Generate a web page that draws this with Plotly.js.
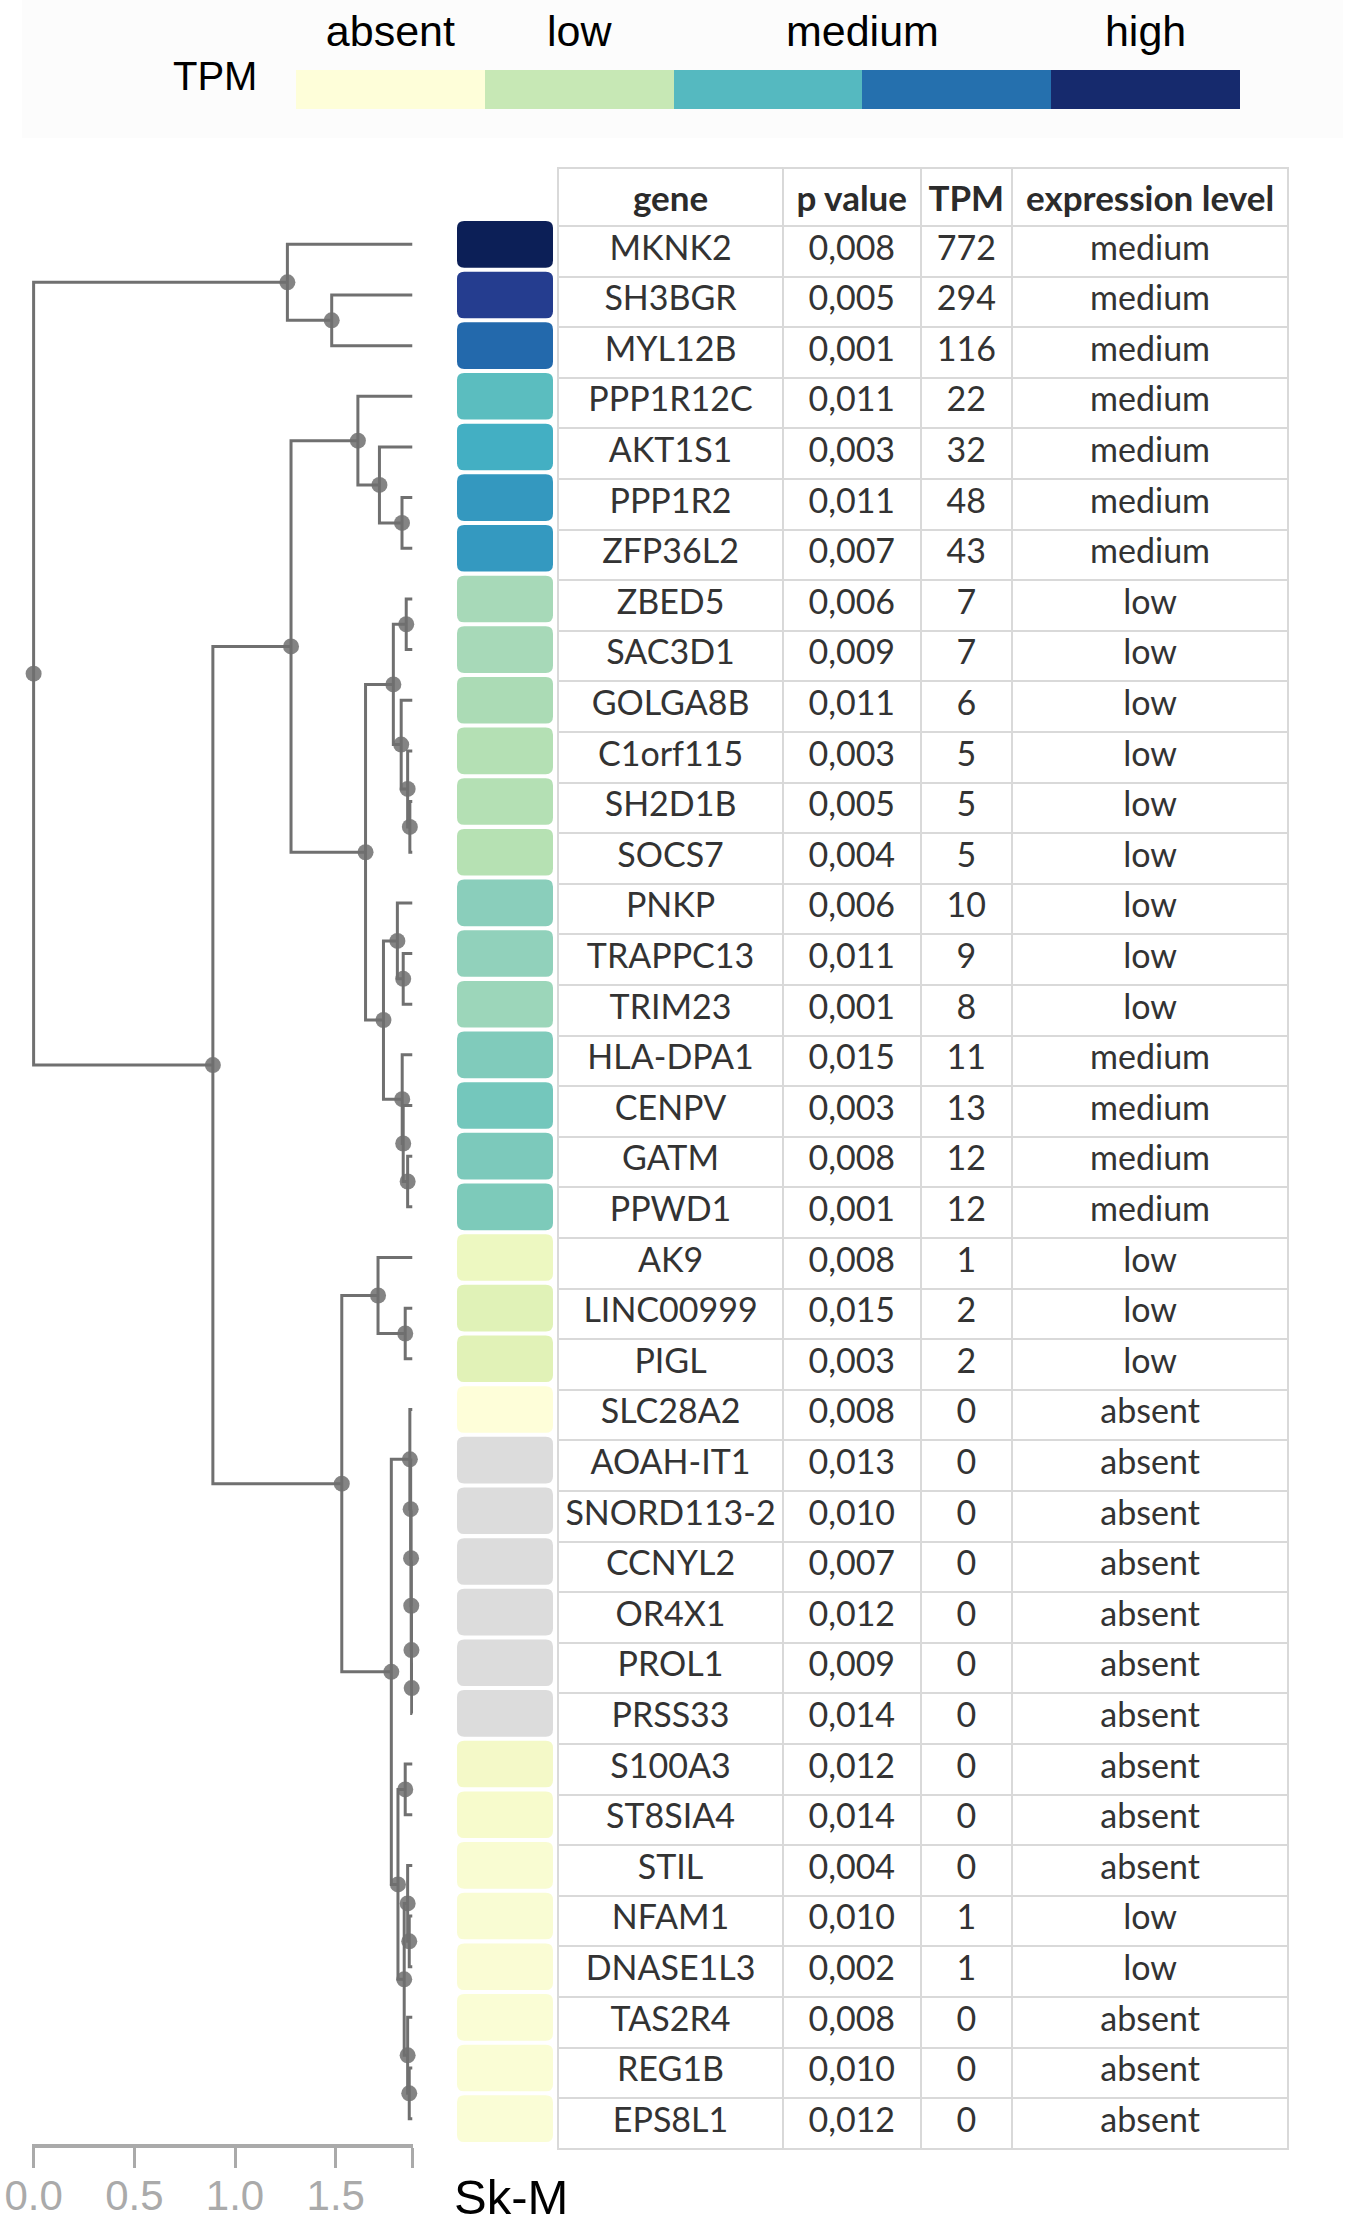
<!DOCTYPE html>
<html>
<head>
<meta charset="utf-8">
<script src="https://cdn.plot.ly/plotly-3.0.1.min.js"></script>
<style>
  html, body { margin: 0; padding: 0; background: #ffffff; }
  #chart { width: 1350px; height: 2239px; }
</style>
</head>
<body>
<div id="chart"></div>
<script>
// ---------------- DATA ----------------
const genes = ['MKNK2','SH3BGR','MYL12B','PPP1R12C','AKT1S1','PPP1R2','ZFP36L2','ZBED5','SAC3D1','GOLGA8B',
  'C1orf115','SH2D1B','SOCS7','PNKP','TRAPPC13','TRIM23','HLA-DPA1','CENPV','GATM','PPWD1',
  'AK9','LINC00999','PIGL','SLC28A2','AOAH-IT1','SNORD113-2','CCNYL2','OR4X1','PROL1','PRSS33',
  'S100A3','ST8SIA4','STIL','NFAM1','DNASE1L3','TAS2R4','REG1B','EPS8L1'];
const pValues = ['0,008','0,005','0,001','0,011','0,003','0,011','0,007','0,006','0,009','0,011',
  '0,003','0,005','0,004','0,006','0,011','0,001','0,015','0,003','0,008','0,001',
  '0,008','0,015','0,003','0,008','0,013','0,010','0,007','0,012','0,009','0,014',
  '0,012','0,014','0,004','0,010','0,002','0,008','0,010','0,012'];
const tpmValues = [772,294,116,22,32,48,43,7,7,6,5,5,5,10,9,8,11,13,12,12,1,2,2,0,0,0,0,0,0,0,0,0,0,1,1,0,0,0];
const expressionLevel = ['medium','medium','medium','medium','medium','medium','medium','low','low','low',
  'low','low','low','low','low','low','medium','medium','medium','medium',
  'low','low','low','absent','absent','absent','absent','absent','absent','absent',
  'absent','absent','absent','low','low','absent','absent','absent'];
const geneColors = ['#0c1f57','#253d8f','#2369ac','#5bbdbf','#43afc3','#3498bf','#3499c0','#a7d9b8','#a7d9b8','#abdbb5',
  '#b4e0b4','#b4e0b4','#b6e1b3','#8acebb','#91d1bb','#9cd6ba','#80cbbb','#74c7bc','#7cc9bb','#7dcaba',
  '#edf8c1','#e0f2b7','#e1f2b7','#fefed9','#dcdcdc','#dcdcdc','#dcdcdc','#dcdcdc','#dcdcdc','#dcdcdc',
  '#f4f9c8','#f7fbcc','#f9fcd2','#f9fcd3','#fafcd4','#fafdd5','#fafdd5','#fafdd6'];

// dendrogram merges: [node, left child, right child, position on axis]
const leafPosition = 1.88;
const merges = [
  ['n_sh3', 'SH3BGR', 'MYL12B', 1.48],
  ['n_top', 'MKNK2', 'n_sh3', 1.26],
  ['n_ppp', 'PPP1R2', 'ZFP36L2', 1.829],
  ['n_akt', 'AKT1S1', 'n_ppp', 1.717],
  ['n_F', 'PPP1R12C', 'n_akt', 1.61],
  ['n_zbed', 'ZBED5', 'SAC3D1', 1.85],
  ['n_sh2', 'SH2D1B', 'SOCS7', 1.868],
  ['n_c1', 'C1orf115', 'n_sh2', 1.857],
  ['n_golga', 'GOLGA8B', 'n_c1', 1.825],
  ['n_J', 'n_zbed', 'n_golga', 1.786],
  ['n_trap', 'TRAPPC13', 'TRIM23', 1.835],
  ['n_S', 'PNKP', 'n_trap', 1.806],
  ['n_gatm', 'GATM', 'PPWD1', 1.857],
  ['n_cenpv', 'CENPV', 'n_gatm', 1.835],
  ['n_T', 'HLA-DPA1', 'n_cenpv', 1.830],
  ['n_K', 'n_S', 'n_T', 1.737],
  ['n_G', 'n_J', 'n_K', 1.648],
  ['n_D', 'n_F', 'n_G', 1.278],
  ['n_linc', 'LINC00999', 'PIGL', 1.845],
  ['n_X', 'AK9', 'n_linc', 1.71],
  ['n_ch6', 'PROL1', 'PRSS33', 1.877],
  ['n_ch5', 'OR4X1', 'n_ch6', 1.876],
  ['n_ch4', 'CCNYL2', 'n_ch5', 1.875],
  ['n_ch3', 'SNORD113-2', 'n_ch4', 1.874],
  ['n_ch2', 'AOAH-IT1', 'n_ch3', 1.872],
  ['n_ch1', 'SLC28A2', 'n_ch2', 1.868],
  ['n_AA', 'S100A3', 'ST8SIA4', 1.845],
  ['n_nfam', 'NFAM1', 'DNASE1L3', 1.865],
  ['n_stil', 'STIL', 'n_nfam', 1.857],
  ['n_reg', 'REG1B', 'EPS8L1', 1.865],
  ['n_tas', 'TAS2R4', 'n_reg', 1.857],
  ['n_BB', 'n_stil', 'n_tas', 1.84],
  ['n_low', 'n_AA', 'n_BB', 1.809],
  ['n_Z', 'n_ch1', 'n_low', 1.776],
  ['n_E', 'n_X', 'n_Z', 1.53],
  ['n_C', 'n_D', 'n_E', 0.89],
  ['root', 'n_top', 'n_C', 0.0]
];

const axisTickVals = [0, 0.5, 1.0, 1.5, leafPosition];
const axisTickText = ['0.0', '0.5', '1.0', '1.5', ''];

const legendLevels = ['absent', 'low', 'medium', 'high'];
const legendLabelPos = [0, 1, 2.5, 4];
const legendColors = ['#fefed9', '#c7e8b5', '#55b9c0', '#2570ae', '#162a6d'];
const legendSteps = [0, 1, 2, 3, 4];
const legendTitle = 'TPM';

const tableHeader = ['gene', 'p value', 'TPM', 'expression level'];
const sampleLabel = 'Sk-M';

// ---------------- LAYOUT HELPERS ----------------
const W = 1350, H = 2239;
const fx = p => p / W;
const fy = p => (H - p) / H;
const rowTop = 219, rowBottom = 2144;

// ---------------- DENDROGRAM ----------------
const pos = {};
genes.forEach((g, i) => { pos[g] = { x: leafPosition, y: i }; });
const lx = [], ly = [], dx = [], dy = [];
merges.forEach(([id, a, b, h]) => {
  const A = pos[a], B = pos[b];
  const y = (A.y + B.y) / 2;
  lx.push(A.x, h, h, B.x, null);
  ly.push(A.y, A.y, B.y, B.y, null);
  pos[id] = { x: h, y: y };
  dx.push(h); dy.push(y);
});

const fontSans = '"Liberation Sans", Arial, Helvetica, sans-serif';
const fontTable = 'Lato, "Open Sans", "Liberation Sans", sans-serif';

const traces = [];
traces.push({
  type: 'scatter', mode: 'lines', x: lx, y: ly, xaxis: 'x', yaxis: 'y',
  line: { color: '#707070', width: 3 }, hoverinfo: 'skip', showlegend: false
});
traces.push({
  type: 'scatter', mode: 'markers', x: dx, y: dy, xaxis: 'x', yaxis: 'y',
  marker: { color: '#6e6e6e', size: 16, opacity: 0.85 }, cliponaxis: false,
  hoverinfo: 'skip', showlegend: false
});

// ---------------- LEGEND HEATMAP ----------------
traces.push({
  type: 'heatmap', z: [legendSteps], x: legendSteps, y: [0], xaxis: 'x3', yaxis: 'y3',
  zmin: 0, zmax: 4, showscale: false, hoverinfo: 'skip',
  colorscale: legendColors.map((c, i) => [i / (legendColors.length - 1), c])
});

// ---------------- TABLE ----------------
traces.push({
  type: 'table',
  domain: { x: [fx(558), fx(1288)], y: [fy(2165), fy(168)] },
  columnwidth: [226, 138, 92, 277],
  header: {
    values: tableHeader.map(t => '<b>' + t + '</b>'),
    height: 51, align: 'center',
    line: { color: '#d9d9d9', width: 2 }, fill: { color: '#ffffff' },
    font: { family: fontTable, size: 35, color: '#2b2b2b' }
  },
  cells: {
    values: [genes, pValues, tpmValues.map(String), expressionLevel],
    height: 50.6, align: 'center',
    line: { color: '#d9d9d9', width: 2 }, fill: { color: '#ffffff' },
    font: { family: fontTable, size: 34, color: '#333333' }
  }
});

// ---------------- COLOR BOXES (rounded, in data coordinates) ----------------
const shapes = [];
const bx0 = 0, bx1 = 1, bh = 0.46, rx = 0.075, ry = 0.14;
genes.forEach((g, i) => {
  const y0 = i - bh, y1 = i + bh;
  const path = `M ${bx0 + rx},${y0} L ${bx1 - rx},${y0} Q ${bx1},${y0} ${bx1},${y0 + ry} L ${bx1},${y1 - ry} Q ${bx1},${y1} ${bx1 - rx},${y1} L ${bx0 + rx},${y1} Q ${bx0},${y1} ${bx0},${y1 - ry} L ${bx0},${y0 + ry} Q ${bx0},${y0} ${bx0 + rx},${y0} Z`;
  shapes.push({ type: 'path', xref: 'x2', yref: 'y', path: path, fillcolor: geneColors[i], line: { width: 0 }, layer: 'below' });
});
// faint legend panel
shapes.push({ type: 'rect', xref: 'paper', yref: 'paper', x0: fx(22), x1: fx(1343), y0: fy(138), y1: fy(0),
  fillcolor: '#fcfcfc', line: { width: 0 }, layer: 'below' });

const layout = {
  width: W, height: H,
  margin: { l: 0, r: 0, t: 0, b: 0 },
  paper_bgcolor: '#ffffff', plot_bgcolor: 'rgba(0,0,0,0)',
  showlegend: false,
  xaxis: {
    domain: [fx(32), fx(32 + 202.7 * leafPosition)], range: [-0.008, leafPosition + 0.004],
    anchor: 'y', showgrid: false, zeroline: false,
    showline: true, linecolor: '#aaaaaa', linewidth: 4,
    ticks: 'outside', ticklen: 20, tickwidth: 3, tickcolor: '#aaaaaa',
    tickvals: axisTickVals, ticktext: axisTickText, ticklabelstandoff: -8,
    tickfont: { family: fontSans, size: 42, color: '#aaaaaa' }
  },
  yaxis: {
    domain: [fy(rowBottom), fy(rowTop)], range: [genes.length - 0.5, -0.5],
    showgrid: false, zeroline: false, showticklabels: false, ticks: '', anchor: 'x'
  },
  xaxis2: {
    domain: [fx(457), fx(553)], range: [0, 1], anchor: 'y',
    showgrid: false, zeroline: false, showticklabels: false, ticks: '', showline: false
  },
  xaxis3: {
    domain: [fx(296), fx(1240)], range: [-0.5, 4.5], anchor: 'y3', side: 'top',
    showgrid: false, zeroline: false, ticks: '', showline: false,
    tickvals: legendLabelPos, ticktext: legendLevels, ticklabelstandoff: 14,
    tickfont: { family: fontSans, size: 43, color: '#000000' }
  },
  yaxis3: {
    domain: [fy(109), fy(70)], range: [-0.5, 0.5], anchor: 'x3',
    showgrid: false, zeroline: false, ticks: '', showline: false, showticklabels: false
  },
  shapes: shapes,
  annotations: [{
    xref: 'paper', yref: 'paper', x: fx(452), y: fy(2197), xanchor: 'left', yanchor: 'middle',
    text: sampleLabel, showarrow: false,
    font: { family: fontSans, size: 49, color: '#000000' }
  }, {
    xref: 'paper', yref: 'paper', x: fx(259), y: fy(76), xanchor: 'right', yanchor: 'middle',
    text: legendTitle, showarrow: false,
    font: { family: fontSans, size: 40, color: '#000000' }
  }]
};

Plotly.newPlot('chart', traces, layout, { staticPlot: true, displayModeBar: false });
</script>
</body>
</html>
